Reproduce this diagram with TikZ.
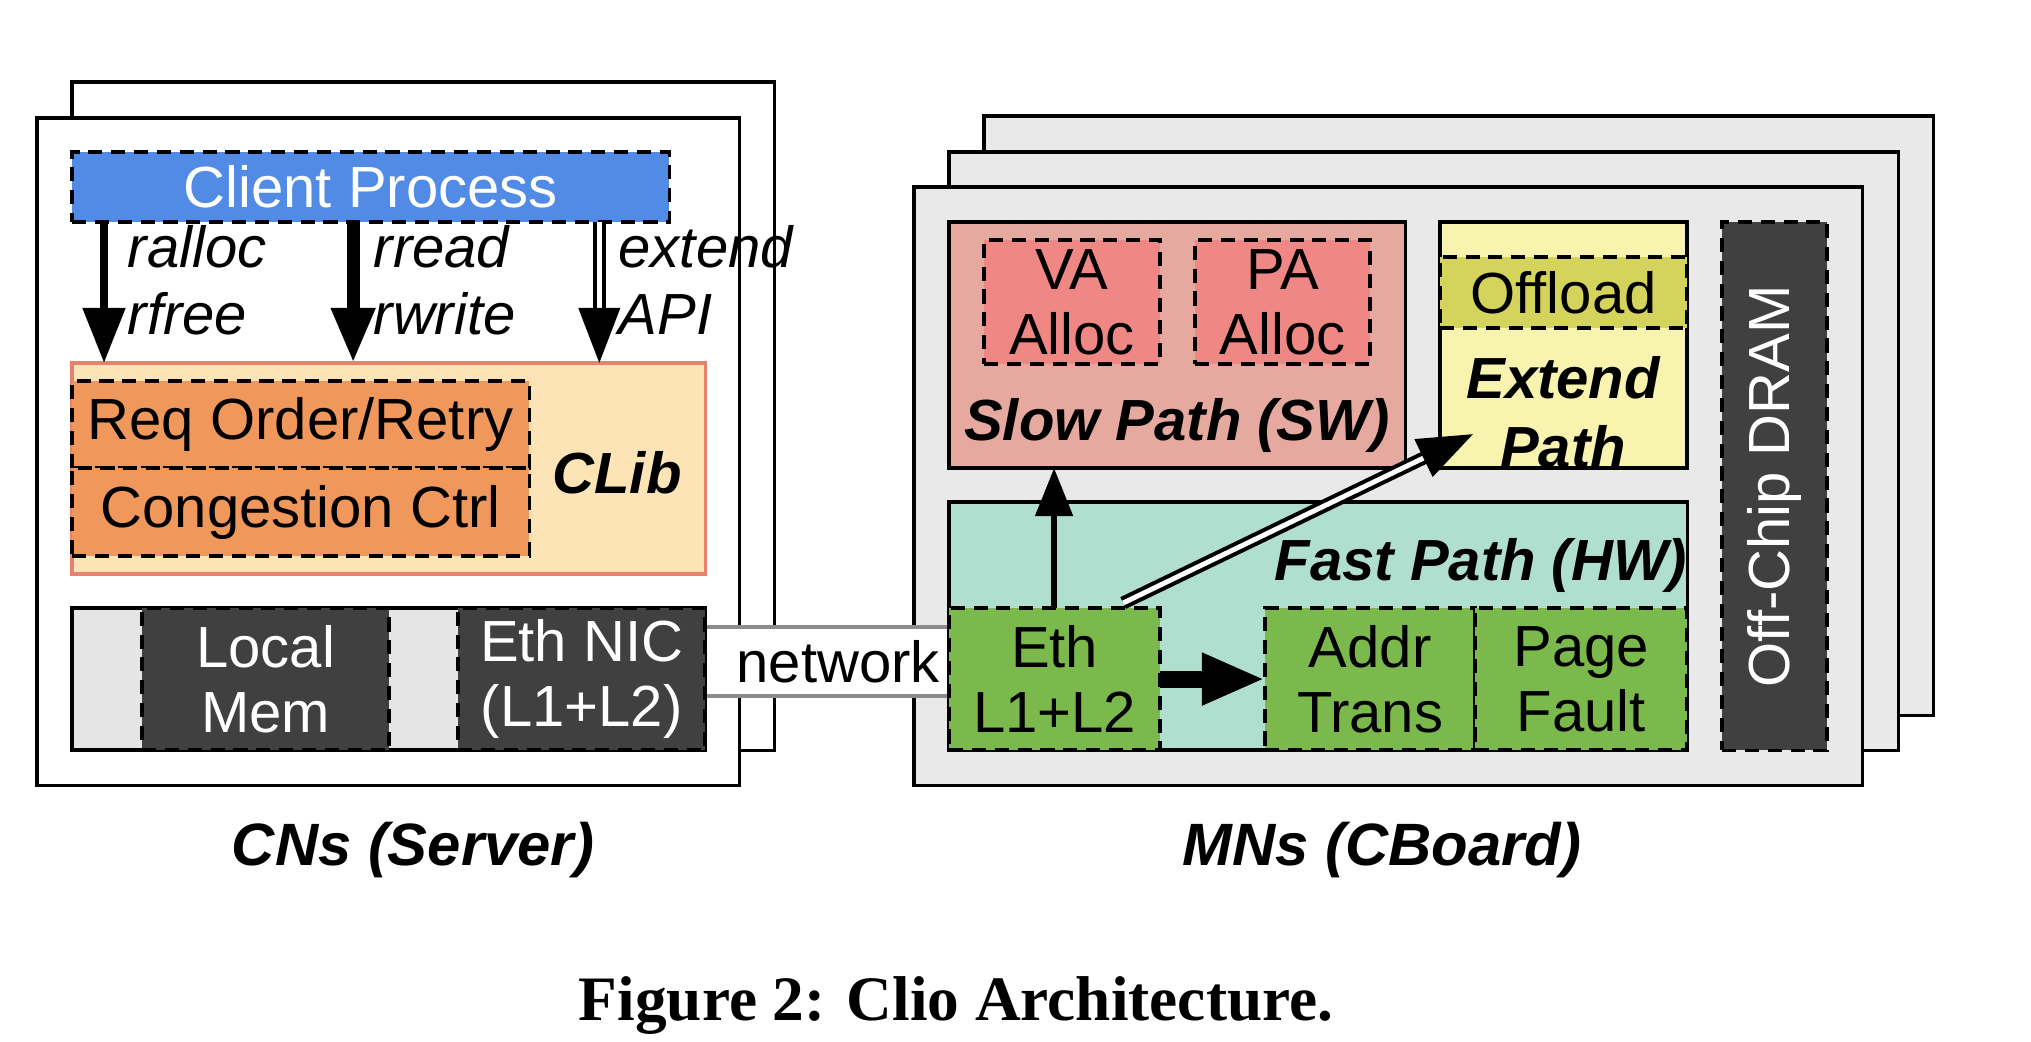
\documentclass[tikz,border=0pt]{standalone}
\usepackage{fontspec}
\setmainfont{Liberation Sans}
\newfontfamily\capfont{Liberation Serif}
\usetikzlibrary{arrows.meta}

\definecolor{procblue}{RGB}{82,139,229}
\definecolor{clibfill}{RGB}{252,228,182}
\definecolor{clibline}{RGB}{232,128,110}
\definecolor{libbox}{RGB}{240,151,92}
\definecolor{hwgray}{RGB}{229,229,229}
\definecolor{darkbox}{RGB}{64,64,64}
\definecolor{boardgray}{RGB}{233,233,233}
\definecolor{slowfill}{RGB}{230,169,160}
\definecolor{allocfill}{RGB}{239,136,132}
\definecolor{extfill}{RGB}{248,244,176}
\definecolor{offfill}{RGB}{212,211,92}
\definecolor{fastfill}{RGB}{176,223,208}
\definecolor{hwgreen}{RGB}{123,185,76}
\definecolor{netgray}{RGB}{140,140,140}

\pgfdeclarelayer{frames}
\pgfdeclarelayer{links}
\pgfsetlayers{frames,links,main}

\begin{document}
\begin{tikzpicture}[
		x=0.01cm, y=-0.01cm,
		every node/.style={font=\fontsize{16.5}{18.5}\selectfont},
		box/.style={draw, line width=1pt, anchor=north west, inner sep=0pt, outer sep=0pt, align=center},
		dbox/.style={box, dash pattern=on 4pt off 2.5pt},
		tag/.style={font=\fontsize{16.5}{19.5}\selectfont\bfseries\itshape, inner sep=0pt},
		sidelbl/.style={font=\fontsize{17}{20}\selectfont\bfseries\itshape, inner sep=0pt, anchor=base},
		apilabel/.style={font=\fontsize{16.5}{19}\selectfont\itshape, align=left, anchor=west, inner sep=0pt},
		thinapi/.style={line width=2.3pt, -{Triangle[width=0.41cm,length=0.55cm]}},
		thickapi/.style={line width=3.7pt, -{Triangle[width=0.41cm,length=0.55cm]}},
		extapi/.style={double, double distance=1.4pt, line width=1.15pt, -{Triangle[width=0.41cm,length=0.55cm]}},
		slowarrow/.style={line width=1.5pt, -{Triangle[width=0.37cm,length=0.48cm]}},
		fatarrow/.style={line width=4.8pt, -{Triangle[width=0.48cm,length=0.63cm]}}
		]
		\useasboundingbox (0,0) rectangle (2031,1041);
		\begin{pgfonlayer}{frames}
		\fill[white] (0,0) rectangle (2031,1041);
		% compute nodes
		\node[box, fill=white, minimum width=7.02cm, minimum height=6.68cm] (cnback) at (72,82) {};
		\node[box, fill=white, minimum width=7.02cm, minimum height=6.67cm] (cnfront) at (37,118) {};
		% memory nodes
		\node[box, fill=boardgray, minimum width=9.49cm, minimum height=5.99cm] (mnbackb) at (984,116) {};
		\node[box, fill=boardgray, minimum width=9.49cm, minimum height=5.98cm] (mnbacka) at (949,152) {};
		\node[box, fill=boardgray, minimum width=9.48cm, minimum height=5.98cm] (mnfront) at (914,187) {};
		\end{pgfonlayer}
		
		\node[dbox, fill=procblue, text=white, minimum width=5.97cm, minimum height=0.70cm] (client) at (72,152) {Client Process};
		\node[box, draw=clibline, fill=clibfill, minimum width=6.33cm, minimum height=2.11cm] (clib) at (72,363) {};
		\node[dbox, fill=libbox, minimum width=4.57cm, minimum height=0.87cm] (reqorder) at (72,381) {Req Order/Retry};
		\node[dbox, fill=libbox, minimum width=4.57cm, minimum height=0.88cm] (congestion) at (72,468) {Congestion Ctrl};
		\node[tag, anchor=base] (cliblbl) at (617,493) {CLib};
		\node[box, fill=hwgray, minimum width=6.33cm, minimum height=1.42cm] (hwbar) at (72,608) {};
		\node[dbox, fill=darkbox, text=white, minimum width=2.47cm, minimum height=1.42cm] (localmem) at (142,608) {Local\\Mem};
		\node[dbox, fill=darkbox, text=white, minimum width=2.47cm, minimum height=1.42cm] (ethnic) at (458,608) {Eth NIC\\(L1+L2)};
		
		\draw[thinapi] ([xshift=0.32cm]client.south west) -- ([xshift=0.32cm]clib.north west);
		\draw[thickapi] ([xshift=2.81cm]client.south west) -- ([xshift=2.81cm]clib.north west);
		\draw[extapi] ([xshift=5.27cm]client.south west) -- ([xshift=5.27cm]clib.north west);
		\node[apilabel] (allocapi) at (127,280) {ralloc\\rfree};
		\node[apilabel] (accessapi) at (373,280) {rread\\rwrite};
		\node[apilabel] (extendapi) at (618,280) {extend\\API};
		\node[sidelbl] (cnlbl) at (413,865) {CNs (Server)};
		
		% board
		\node[box, fill=slowfill, minimum width=4.56cm, minimum height=2.46cm] (slow) at (949,222) {};
		\node[dbox, fill=allocfill, minimum width=1.76cm, minimum height=1.24cm] (va) at (984,240) {VA\\Alloc};
		\node[dbox, fill=allocfill, minimum width=1.75cm, minimum height=1.24cm] (pa) at (1195,240) {PA\\Alloc};
		\node[tag, anchor=base] (slowlbl) at (1177,440) {Slow Path (SW)};
		\node[box, fill=extfill, minimum width=2.47cm, minimum height=2.46cm] (extend) at (1440,222) {};
		\node[dbox, fill=offfill, minimum width=2.47cm, minimum height=0.71cm] (offload) at (1440,257) {Offload};
		\node[tag, align=center, anchor=north] (extlbl) at (1563,356) {Extend\\Path};
		\node[dbox, fill=darkbox, minimum width=1.05cm, minimum height=5.28cm] (dram) at (1722,222) {};
		\node[text=white, rotate=90] (dramlbl) at (dram.center) {Off-Chip DRAM};
		\node[box, fill=fastfill, minimum width=7.38cm, minimum height=2.48cm] (fast) at (949,502) {};
		\node[tag, anchor=base east] (fastlbl) at (1688,580) {Fast Path (HW)};
		\node[dbox, fill=hwgreen, minimum width=2.11cm, minimum height=1.42cm] (ethmn) at (949,608) {Eth\\L1+L2};
		\node[dbox, fill=hwgreen, minimum width=2.10cm, minimum height=1.42cm] (addr) at (1265,608) {Addr\\Trans};
		\node[dbox, fill=hwgreen, minimum width=2.12cm, minimum height=1.42cm] (page) at (1475,608) {Page\\Fault};
		
		\draw[slowarrow] ([xshift=1.05cm]ethmn.north west) -- ([xshift=1.05cm]slow.south west);
		\draw[extapi] ([xshift=-0.37cm,yshift=0.05cm]ethmn.north east) -- ([xshift=0.33cm,yshift=0.34cm]extend.south west);
		\draw[fatarrow] (ethmn.east) -- (addr.west);
		\node[sidelbl] (mnlbl) at (1382,865) {MNs (CBoard)};
		
		\begin{pgfonlayer}{links}
		\draw[netgray, line width=1.1pt, double=white, double distance=0.65cm] ([yshift=0.175cm]ethnic.east) -- node[text=black, xshift=0.11cm] (netlbl) {network} ([yshift=0.175cm]ethmn.west);
		\end{pgfonlayer}
		
		\node[font=\capfont\bfseries\fontsize{18}{22}\selectfont, anchor=base] (caption) at (956,1020) {Figure 2: Clio Architecture.};
		
\end{tikzpicture}
\end{document}
